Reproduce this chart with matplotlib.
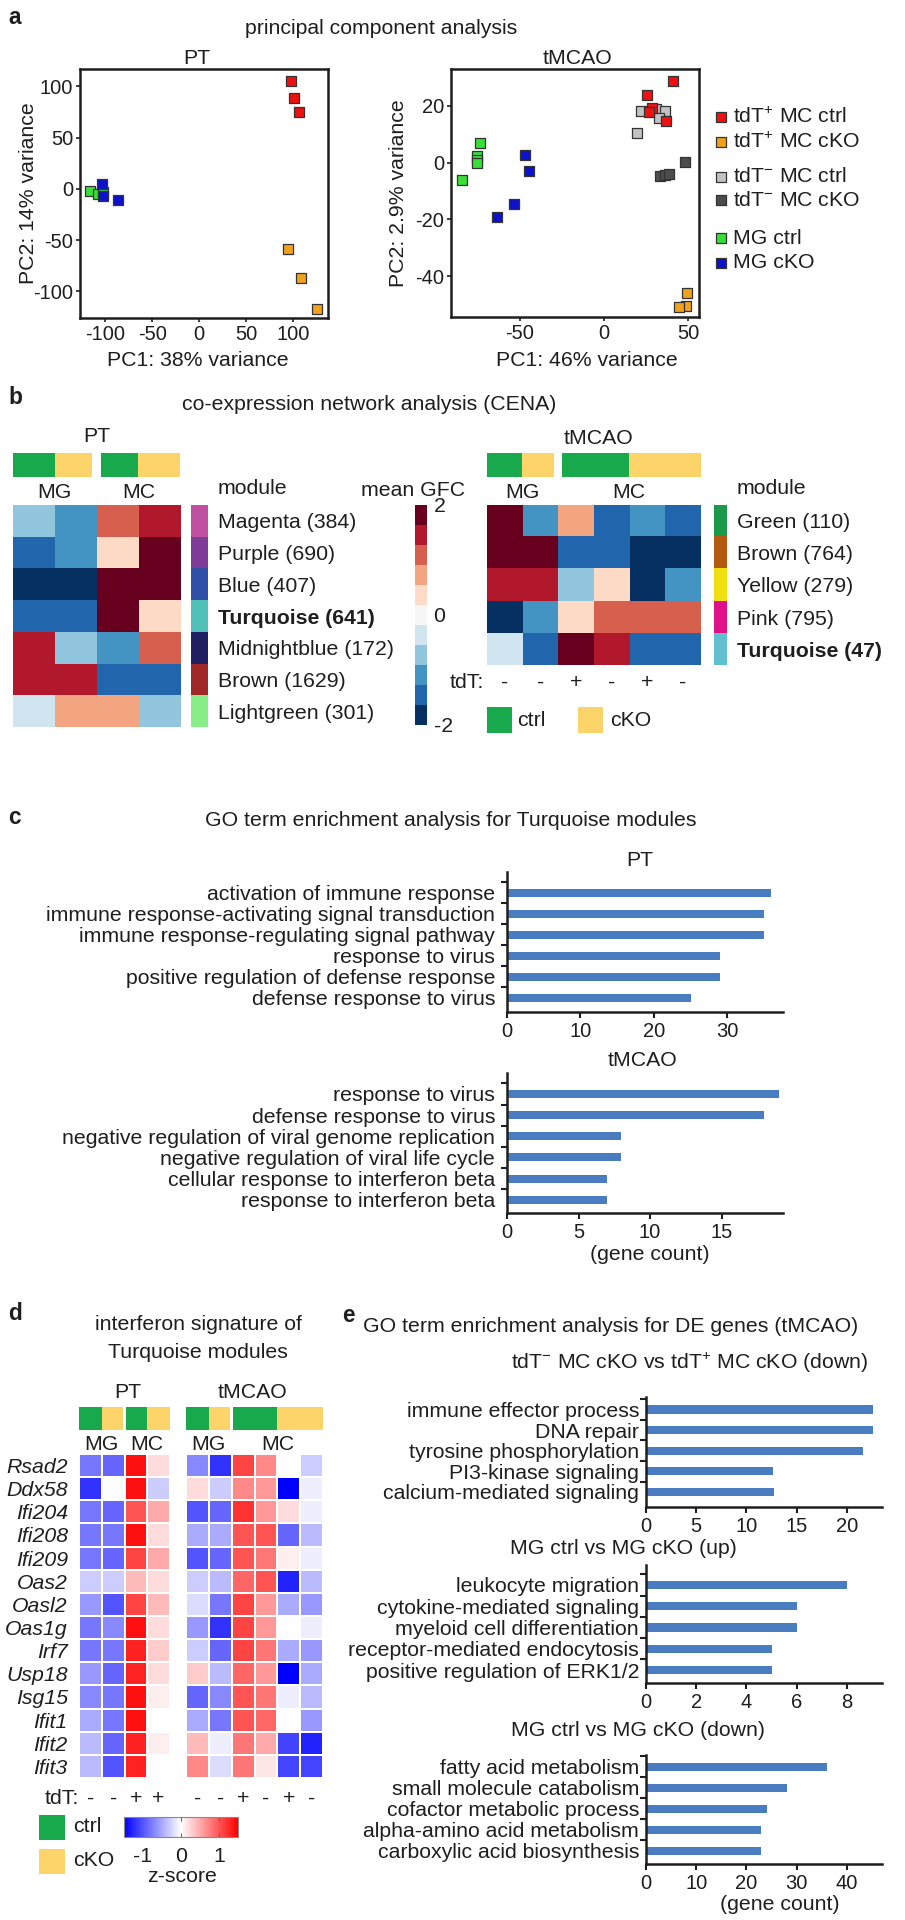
import numpy as np
import matplotlib
matplotlib.use("Agg")
import matplotlib.pyplot as plt
from matplotlib.colors import ListedColormap
from matplotlib.patches import Rectangle
import matplotlib.transforms as mtrans

W, H = 905, 1920
plt.rcParams['font.family'] = ['Liberation Sans', 'DejaVu Sans']
plt.rcParams['mathtext.fontset'] = 'custom'
plt.rcParams['mathtext.rm'] = 'Liberation Sans'
plt.rcParams['mathtext.it'] = 'Liberation Sans:italic'
plt.rcParams['mathtext.bf'] = 'Liberation Sans:bold'
plt.rcParams['axes.unicode_minus'] = False
TXT = '#1e1e1e'
plt.rcParams['text.color'] = TXT
plt.rcParams['axes.edgecolor'] = TXT
plt.rcParams['xtick.color'] = TXT
plt.rcParams['ytick.color'] = TXT
plt.rcParams['xtick.labelcolor'] = TXT
plt.rcParams['ytick.labelcolor'] = TXT

FS = 15.3
TFS = 14.5
BAR_COLOR = '#4a7cc2'
COND_COLORS = {'ctrl': '#19a94d', 'cKO': '#fcd469'}

# ---------------- data: panel a (PCA) ----------------
pca_labels = ['tdT$^{+}$ MC ctrl', 'tdT$^{+}$ MC cKO', 'tdT$^{-}$ MC ctrl',
              'tdT$^{-}$ MC cKO', 'MG ctrl', 'MG cKO']
pca_colors = ['#ee1111', '#f0a31a', '#c2c2c2', '#4d4d4d', '#37e037', '#0c12cc']
pca_draw_order = [2, 3, 0, 1, 4, 5]

pt_pc1 = [[98, 101, 106], [94, 108, 125], [], [],
          [-116, -108, -102], [-104, -102, -87]]
pt_pc2 = [[105, 89, 75], [-59, -87, -117], [], [],
          [-2, -5, -3], [5, -7, -11]]
tm_pc1 = [[41.3, 25.6, 28.4, 27.0, 36.7], [49.2, 48.8, 44.8],
          [21.8, 31.0, 36.5, 32.5, 19.4], [48.2, 33.3, 36.3, 38.9],
          [-73.8, -75.8, -75.8, -75.4, -84.3], [-47.0, -44.6, -53.6, -63.5]]
tm_pc2 = [[28.8, 23.7, 19.4, 17.7, 14.7], [-46.1, -50.4, -51.0],
          [18.2, 18.8, 18.2, 15.7, 10.3], [0.1, -4.6, -4.2, -4.0],
          [6.8, 2.5, 0.9, -0.1, -6.1], [2.8, -3.0, -14.7, -19.2]]

# ---------------- data: panel b (CENA) ----------------
cena_pt_modules = ['Magenta (384)', 'Purple (690)', 'Blue (407)', 'Turquoise (641)',
                   'Midnightblue (172)', 'Brown (1629)', 'Lightgreen (301)']
cena_pt_module_colors = ['#c050a0', '#7d3c98', '#3050a8', '#50c0b8', '#202060', '#a02828', '#88ee88']
cena_pt_cells = ['MG', 'MG', 'MC', 'MC']
cena_pt_cond = ['ctrl', 'cKO', 'ctrl', 'cKO']
cena_pt_gfc = [[-0.7, -1.1, 1.1, 1.45],
               [-1.45, -1.1, 0.35, 1.8],
               [-1.8, -1.8, 1.8, 1.8],
               [-1.45, -1.45, 1.8, 0.35],
               [1.45, -0.7, -1.1, 1.1],
               [1.45, 1.45, -1.45, -1.45],
               [-0.35, 0.7, 0.7, -0.7]]

cena_tm_modules = ['Green (110)', 'Brown (764)', 'Yellow (279)', 'Pink (795)', 'Turquoise (47)']
cena_tm_module_colors = ['#1a9a48', '#b35a10', '#f0e010', '#e0108a', '#60c0d0']
cena_tm_cells = ['MG', 'MG', 'MC', 'MC', 'MC', 'MC']
cena_tm_cond = ['ctrl', 'cKO', 'ctrl', 'ctrl', 'cKO', 'cKO']
cena_tm_tdt = ['-', '-', '+', '-', '+', '-']
cena_tm_gfc = [[1.8, -1.1, 0.7, -1.45, -1.1, -1.45],
               [1.8, 1.8, -1.45, -1.45, -1.8, -1.8],
               [1.45, 1.45, -0.7, 0.35, -1.8, -1.1],
               [-1.8, -1.1, 0.35, 1.1, 1.1, 1.1],
               [-0.35, -1.45, 1.8, 1.45, -1.45, -1.45]]

# ---------------- data: panel c (GO Turquoise) ----------------
go_pt_terms = ['activation of immune response', 'immune response-activating signal transduction',
               'immune response-regulating signal pathway', 'response to virus',
               'positive regulation of defense response', 'defense response to virus']
go_pt_counts = [36, 35, 35, 29, 29, 25]
go_tm_terms = ['response to virus', 'defense response to virus',
               'negative regulation of viral genome replication',
               'negative regulation of viral life cycle',
               'cellular response to interferon beta', 'response to interferon beta']
go_tm_counts = [19, 18, 8, 8, 7, 7]

# ---------------- data: panel d (interferon signature) ----------------
ifn_genes = ['Rsad2', 'Ddx58', 'Ifi204', 'Ifi208', 'Ifi209', 'Oas2', 'Oasl2',
             'Oas1g', 'Irf7', 'Usp18', 'Isg15', 'Ifit1', 'Ifit2', 'Ifit3']
ifn_pt_cells = ['MG', 'MG', 'MC', 'MC']
ifn_pt_cond = ['ctrl', 'cKO', 'ctrl', 'cKO']
ifn_pt_tdt = ['-', '-', '+', '+']
ifn_pt_z = [[-0.8, -0.9, 1.4, 0.2],
            [-1.2, 0.0, 1.4, -0.3],
            [-0.8, -0.9, 1.0, 0.5],
            [-0.8, -0.8, 1.4, 0.2],
            [-0.8, -0.9, 1.1, 0.5],
            [-0.3, -0.3, 0.4, 0.2],
            [-0.6, -1.0, 1.1, 0.4],
            [-0.8, -0.7, 1.4, 0.2],
            [-0.8, -0.8, 1.3, 0.3],
            [-0.6, -0.9, 1.3, 0.2],
            [-0.7, -0.8, 1.4, 0.1],
            [-0.5, -0.8, 1.4, 0.0],
            [-0.4, -0.9, 1.3, 0.1],
            [-0.4, -1.0, 1.3, 0.0]]
ifn_tm_cells = ['MG', 'MG', 'MC', 'MC', 'MC', 'MC']
ifn_tm_cond = ['ctrl', 'cKO', 'ctrl', 'ctrl', 'cKO', 'cKO']
ifn_tm_tdt = ['-', '-', '+', '-', '+', '-']
ifn_tm_z = [[-0.7, -1.2, 1.1, 0.7, 0.0, -0.3],
            [0.2, -0.3, 0.7, 0.6, -1.5, -0.1],
            [-1.0, -0.9, 1.2, 0.6, 0.2, -0.1],
            [-0.5, -0.5, 1.0, 1.0, -0.9, -0.4],
            [-1.0, -0.9, 1.0, 0.8, 0.1, -0.1],
            [-0.3, -0.4, 0.9, 1.0, -1.3, -0.4],
            [-0.2, -0.8, 1.1, 0.6, -0.5, -0.6],
            [-0.6, -1.2, 1.1, 0.6, 0.0, -0.1],
            [-0.3, -0.9, 1.1, 0.8, -0.5, -0.6],
            [0.3, -0.4, 0.9, 0.6, -1.5, -0.5],
            [-0.9, -0.7, 1.0, 0.8, -0.1, -0.4],
            [-0.5, -0.8, 1.0, 0.9, 0.0, -0.6],
            [0.4, -0.1, 0.8, 0.5, -1.1, -1.3],
            [0.7, -0.2, 0.8, 0.15, -1.1, -1.1]]

# ---------------- data: panel e (GO DE genes) ----------------
de1_terms = ['immune effector process', 'DNA repair', 'tyrosine phosphorylation',
             'PI3-kinase signaling', 'calcium-mediated signaling']
de1_counts = [22.6, 22.6, 21.6, 12.6, 12.7]
de2_terms = ['leukocyte migration', 'cytokine-mediated signaling', 'myeloid cell differentiation',
             'receptor-mediated endocytosis', 'positive regulation of ERK1/2']
de2_counts = [8, 6, 6, 5, 5]
de3_terms = ['fatty acid metabolism', 'small molecule catabolism', 'cofactor metabolic process',
             'alpha-amino acid metabolism', 'carboxylic acid biosynthesis']
de3_counts = [36, 28, 24, 23, 23]

# ================= figure =================
fig = plt.figure(figsize=(W / 100, H / 100), dpi=100, facecolor='white')
ov = fig.add_axes([0, 0, 1, 1], zorder=10)
ov.set_xlim(0, W)
ov.set_ylim(H, 0)
ov.axis('off')


def rect(x0, y0, x1, y1):
    return [x0 / W, 1 - y1 / H, (x1 - x0) / W, (y1 - y0) / H]


def T(x, y, s, **kw):
    kw.setdefault('ha', 'center')
    kw.setdefault('va', 'center')
    kw.setdefault('fontsize', FS)
    return ov.text(x, y, s, **kw)


def letter(x, y, s):
    T(x, y, s, fontweight='bold', fontsize=FS + 1)


# ---------------- panel a ----------------
letter(15, 17, 'a')
T(381, 28, 'principal component analysis')


def pca_axes(box, pc1, pc2, xlim, ylim, xt, yt):
    ax = fig.add_axes(rect(*box))
    for i in pca_draw_order:
        if len(pc1[i]):
            ax.scatter(pc1[i], pc2[i], marker='s', s=46, c=pca_colors[i],
                       edgecolors='#333333', linewidths=0.9, zorder=3)
    ax.set_xlim(*xlim)
    ax.set_ylim(*ylim)
    ax.set_xticks(xt)
    ax.set_yticks(yt)
    ax.tick_params(length=3, width=1.2, labelsize=TFS, pad=2)
    for s in ax.spines.values():
        s.set_linewidth(1.8)
    return ax


pca_axes((80, 69, 328, 318), pt_pc1, pt_pc2, (-127, 137), (-126, 117),
         [-100, -50, 0, 50, 100], [-100, -50, 0, 50, 100])
pca_axes((451, 69, 699, 317), tm_pc1, tm_pc2, (-91, 56.5), (-54.4, 33),
         [-50, 0, 50], [-40, -20, 0, 20])
T(197, 58, 'PT')
T(577, 58, 'tMCAO')
T(28, 193, 'PC2: 14% variance', rotation=90)
T(398, 193, 'PC2: 2.9% variance', rotation=90)
T(198, 360, 'PC1: 38% variance')
T(587, 360, 'PC1: 46% variance')

legend_rows = [117, 142, 177, 200, 238, 263]
for i, yy in enumerate(legend_rows):
    ov.scatter([721], [yy], marker='s', s=46, c=pca_colors[i], edgecolors='#333333',
               linewidths=0.9)
    T(733, yy, pca_labels[i], ha='left')

# ---------------- panel b ----------------
letter(15, 397, 'b')
T(369, 405, 'co-expression network analysis (CENA)')
cmap_b = plt.get_cmap('RdBu_r', 11)


def cond_bar(x0, x1, y0, y1, cells, cond, gap):
    bx = fig.add_axes(rect(x0, y0, x1, y1))
    n = len(cond)
    bx.set_xlim(-0.5, n - 0.5)
    bx.set_ylim(0, 1)
    bx.axis('off')
    for c in range(n):
        left, right = c - 0.5, c + 0.5
        if c > 0 and cells[c] != cells[c - 1]:
            left += gap
        if c < n - 1 and cells[c] != cells[c + 1]:
            right -= gap
        bx.add_patch(Rectangle((left, 0), right - left, 1, color=COND_COLORS[cond[c]], lw=0))
    return bx


def group_labels(ax, cells, y):
    tr = mtrans.blended_transform_factory(ax.transData, ov.transData)
    start = 0
    for c in range(1, len(cells) + 1):
        if c == len(cells) or cells[c] != cells[start]:
            ov.text((start + c - 1) / 2, y, cells[start], transform=tr, ha='center',
                    va='center', fontsize=FS)
            start = c


def module_strip(box, names, colors, pad, bold_idx):
    sx = fig.add_axes(rect(*box))
    n = len(names)
    sx.imshow(np.arange(n)[:, None], cmap=ListedColormap(colors), aspect='auto',
              interpolation='nearest')
    sx.set_xticks([])
    sx.yaxis.tick_right()
    sx.set_yticks(range(n))
    sx.set_yticklabels(names, fontsize=FS)
    sx.tick_params(axis='y', length=0, pad=pad)
    for s in sx.spines.values():
        s.set_visible(False)
    sx.get_yticklabels()[bold_idx].set_fontweight('bold')
    return sx


# left (PT)
T(97, 437, 'PT')
cond_bar(12.7, 180.3, 453, 477, cena_pt_cells, cena_pt_cond, 0.1)
axb1 = fig.add_axes(rect(12.7, 505, 180.3, 727))
axb1.imshow(np.array(cena_pt_gfc), cmap=cmap_b, vmin=-2, vmax=2, aspect='auto',
            interpolation='nearest')
axb1.axis('off')
group_labels(axb1, cena_pt_cells, 492)
module_strip((190.8, 505, 207, 727), cena_pt_modules, cena_pt_module_colors, 8, 3)
T(218, 488, 'module', ha='left')

# colorbar
T(413, 490, 'mean GFC')
caxb = fig.add_axes(rect(414.5, 505, 426.6, 725))
sm = plt.cm.ScalarMappable(cmap=cmap_b, norm=plt.Normalize(-2, 2))
cbb = fig.colorbar(sm, cax=caxb, ticks=[-2, 0, 2])
cbb.outline.set_visible(False)
caxb.tick_params(length=0, labelsize=FS, pad=5)

# right (tMCAO)
T(598, 438, 'tMCAO')
cond_bar(486.7, 700.6, 453, 477, cena_tm_cells, cena_tm_cond, 0.1)
axb2 = fig.add_axes(rect(486.7, 505, 700.6, 665))
axb2.imshow(np.array(cena_tm_gfc), cmap=cmap_b, vmin=-2, vmax=2, aspect='auto',
            interpolation='nearest')
axb2.axis('off')
group_labels(axb2, cena_tm_cells, 492)
module_strip((714, 505, 727, 665), cena_tm_modules, cena_tm_module_colors, 7, 4)
T(737, 488, 'module', ha='left')

trb = mtrans.blended_transform_factory(axb2.transData, ov.transData)
T(450, 682, 'tdT:', ha='left')
for c, sgn in enumerate(cena_tm_tdt):
    ov.text(c, 682, sgn, transform=trb, ha='center', va='center', fontsize=FS)
ov.add_patch(Rectangle((487, 707), 25, 26, color=COND_COLORS['ctrl'], lw=0))
T(517, 720, 'ctrl', ha='left')
ov.add_patch(Rectangle((578, 707), 25, 26, color=COND_COLORS['cKO'], lw=0))
T(610, 720, 'cKO', ha='left')

# ---------------- panel c ----------------
letter(14, 817, 'c')
T(451, 820, 'GO term enrichment analysis for Turquoise modules')


def bar_panel(box, terms, counts, xmax, xticks, ytop, ybot, height, pad):
    ax = fig.add_axes(rect(*box))
    n = len(terms)
    pos = np.arange(n)
    ax.barh(pos, counts, height=height, color=BAR_COLOR)
    ax.set_xlim(0, xmax)
    ax.set_ylim(ybot, ytop)
    ax.set_yticks(pos - 0.5)
    ax.set_yticklabels([])
    ax.set_yticks(pos, minor=True)
    ax.set_yticklabels(terms, minor=True, fontsize=FS)
    ax.tick_params(axis='y', which='major', length=4, width=1.5, direction='out')
    ax.tick_params(axis='y', which='minor', length=0, pad=pad)
    ax.set_xticks(xticks)
    ax.tick_params(axis='x', length=4, width=1.5, labelsize=TFS, pad=3)
    for s in ['top', 'right']:
        ax.spines[s].set_visible(False)
    for s in ['left', 'bottom']:
        ax.spines[s].set_linewidth(1.8)
    ax.set_facecolor('none')
    return ax


T(640, 860, 'PT')
bar_panel((507, 872, 783, 1012), go_pt_terms, go_pt_counts, 37.6, [0, 10, 20, 30],
          -0.98, 5.69, 0.38, 8.5)
T(642, 1060, 'tMCAO')
bar_panel((507, 1073, 783, 1213), go_tm_terms, go_tm_counts, 19.3, [0, 5, 10, 15],
          -0.99, 5.63, 0.38, 8.5)
T(650, 1254, '(gene count)')

# ---------------- panel d ----------------
letter(15, 1313, 'd')
T(198, 1325, 'interferon signature of')
T(198, 1352, 'Turquoise modules')
T(128, 1392, 'PT')
T(252, 1392, 'tMCAO')


def ifn_heat(box, z, genes=None):
    ax = fig.add_axes(rect(*box))
    arr = np.array(z)
    nr, nc = arr.shape
    m = ax.pcolormesh(np.arange(nc + 1) - 0.5, np.arange(nr + 1) - 0.5, arr, cmap='bwr',
                      vmin=-1.5, vmax=1.5, edgecolors='white', linewidth=1.2)
    ax.set_xlim(-0.5, nc - 0.5)
    ax.set_ylim(nr - 0.5, -0.5)
    ax.set_xticks([])
    if genes is not None:
        ax.set_yticks(range(nr))
        ax.set_yticklabels(genes, fontstyle='italic', fontsize=FS)
        ax.tick_params(axis='y', length=0, pad=8)
    else:
        ax.set_yticks([])
    for s in ax.spines.values():
        s.set_visible(False)
    return ax, m


cond_bar(79, 170, 1407, 1430, ifn_pt_cells, ifn_pt_cond, 0.065)
cond_bar(186, 323, 1407, 1430, ifn_tm_cells, ifn_tm_cond, 0.065)
axd1, mesh = ifn_heat((79, 1454, 170, 1778), ifn_pt_z, ifn_genes)
axd2, _ = ifn_heat((186, 1454, 323, 1778), ifn_tm_z)
group_labels(axd1, ifn_pt_cells, 1445)
group_labels(axd2, ifn_tm_cells, 1445)

T(45, 1798, 'tdT:', ha='left')
for axh, tdt in ((axd1, ifn_pt_tdt), (axd2, ifn_tm_tdt)):
    tr = mtrans.blended_transform_factory(axh.transData, ov.transData)
    for c, sgn in enumerate(tdt):
        ov.text(c, 1798, sgn, transform=tr, ha='center', va='center', fontsize=FS)

ov.add_patch(Rectangle((39, 1815), 26, 25, color=COND_COLORS['ctrl'], lw=0))
T(73, 1826, 'ctrl', ha='left')
ov.add_patch(Rectangle((39, 1849), 26, 25, color=COND_COLORS['cKO'], lw=0))
T(73, 1860, 'cKO', ha='left')

caxd = fig.add_axes(rect(124, 1817, 238, 1837))
cbd = fig.colorbar(mesh, cax=caxd, orientation='horizontal', ticks=[-1, 0, 1])
caxd.tick_params(direction='in', length=3, top=True, labelsize=FS, pad=7, color='#666666')
cbd.outline.set_linewidth(0.8)
cbd.outline.set_edgecolor('#888888')
T(182, 1876, 'z-score')

# ---------------- panel e ----------------
letter(348, 1315, 'e')
T(611, 1327, 'GO term enrichment analysis for DE genes (tMCAO)')
T(690, 1363, 'tdT$^{-}$ MC cKO vs tdT$^{+}$ MC cKO (down)')
bar_panel((646, 1397, 882, 1507), de1_terms, de1_counts, 23.5, [0, 5, 10, 15, 20],
          -0.61, 4.73, 0.4, 5)
T(623, 1548, 'MG ctrl vs MG cKO (up)')
bar_panel((646, 1565, 882, 1683), de2_terms, de2_counts, 9.4, [0, 2, 4, 6, 8],
          -0.94, 4.61, 0.4, 5)
T(638, 1730, 'MG ctrl vs MG cKO (down)')
bar_panel((646, 1755, 882, 1864), de3_terms, de3_counts, 47, [0, 10, 20, 30, 40],
          -0.56, 4.63, 0.4, 5)
T(780, 1905, '(gene count)')

fig.savefig('out.png', dpi=100, facecolor='white')
